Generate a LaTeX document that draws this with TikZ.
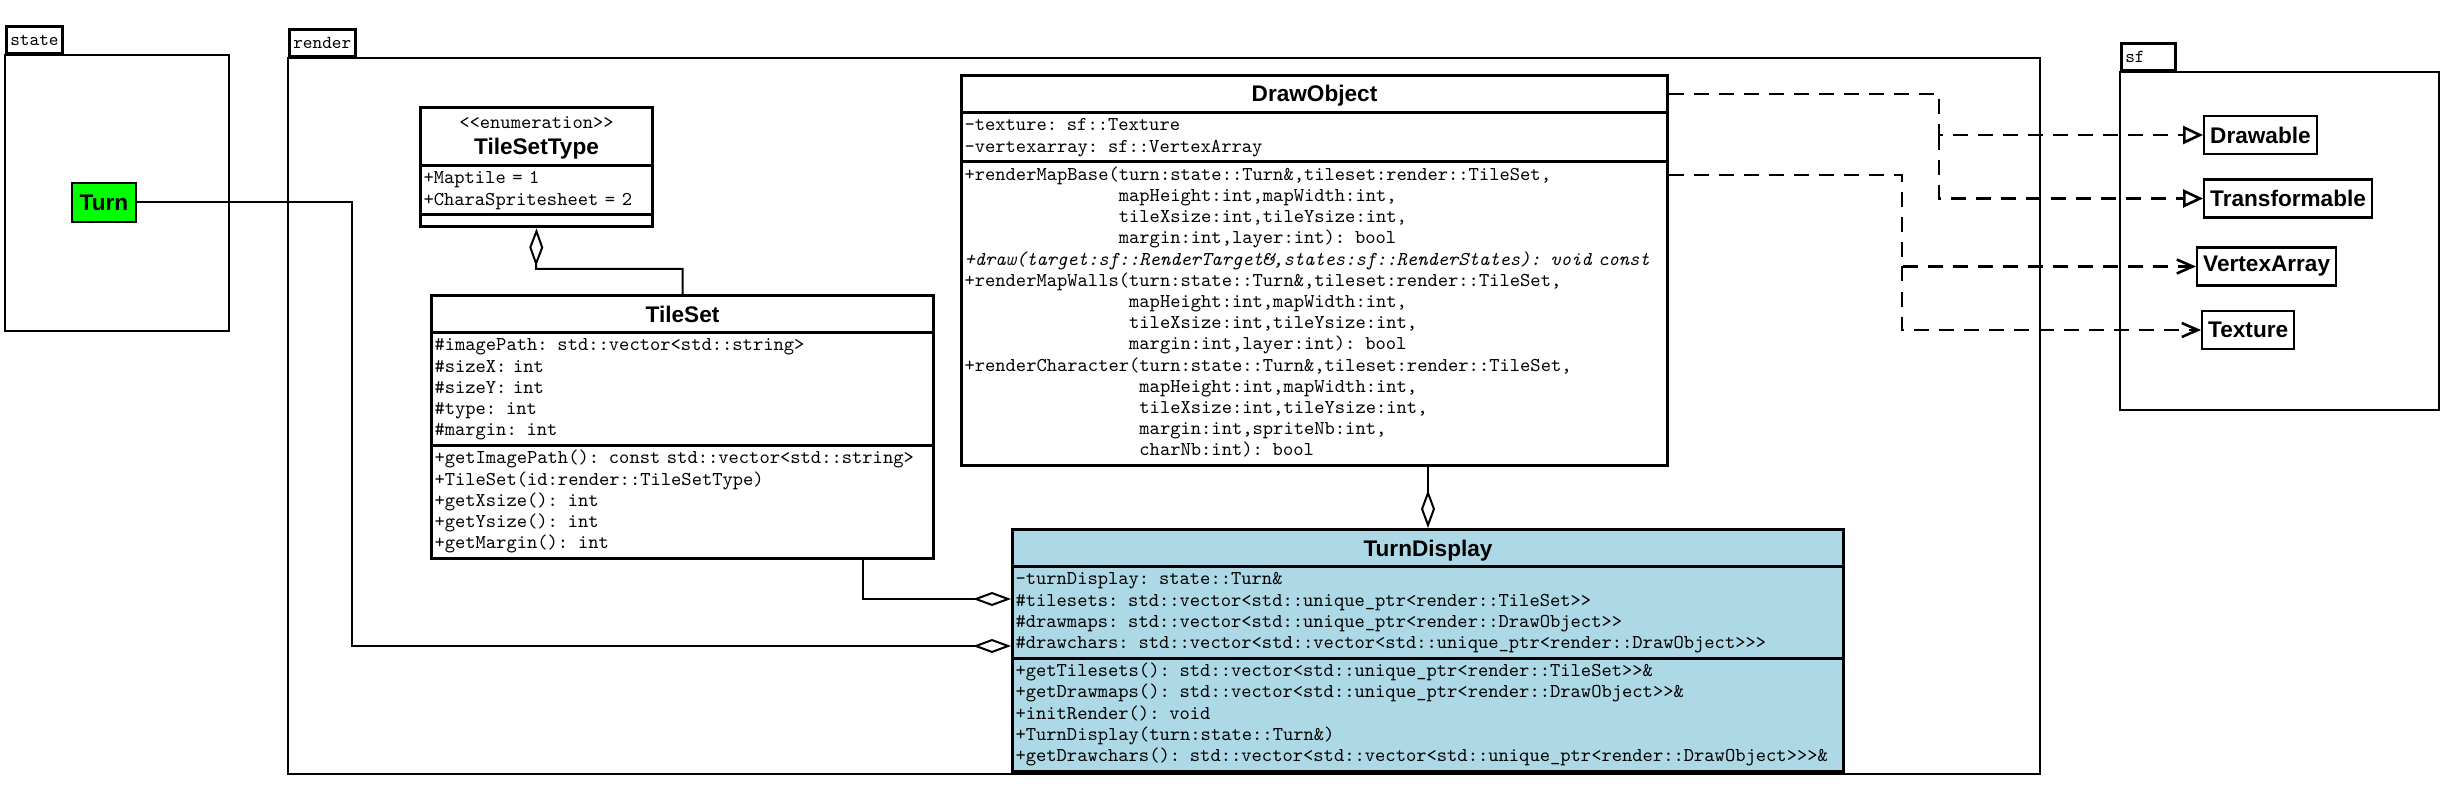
\documentclass[tikz,border=0pt]{standalone}
\usepackage{fontspec}
\setsansfont{Liberation Sans}
\setmonofont{lmmono10-regular.otf}[ItalicFont=lmmono10-italic.otf]
\usetikzlibrary{arrows.meta,shapes.multipart}

\definecolor{turngreen}{HTML}{00FF00}
\definecolor{displayblue}{HTML}{ADD8E6}

\newcommand{\umlfont}{\ttfamily\fontsize{9.8}{10.6}\selectfont}
\newcommand{\pkgfont}{\ttfamily\fontsize{9.2}{10}\selectfont}
\newcommand{\classfont}{\sffamily\bfseries\fontsize{11.3}{13}\selectfont}
\newcommand{\classname}[1]{{\centering\classfont\rule[-3.5pt]{0pt}{15pt}#1\par}}

\begin{document}
\begin{tikzpicture}[x=0.5pt,y=-0.5pt,
        umlclass/.style={rectangle split, rectangle split parts=3, draw, fill=white,
            line width=1.5pt, inner xsep=1.5pt, inner ysep=1pt, anchor=north west,
            align=left, font=\umlfont},
        sfclass/.style={draw, fill=white, line width=1.2pt, font=\classfont,
            inner xsep=3pt, inner ysep=0pt, minimum height=19pt, anchor=west},
        pkgtab/.style={draw, line width=1.3pt, font=\pkgfont, anchor=south west,
            inner xsep=2pt, inner ysep=0pt, minimum height=13.5pt},
        pkgframe/.style={draw, line width=1.3pt},
        aggr/.style={line width=1pt, -{Diamond[open, length=19pt, width=7pt]}},
        realize/.style={line width=1.3pt, dash pattern=on 7.5pt off 5pt,
            -{Triangle[open, length=10pt, width=9pt]}},
        depend/.style={line width=1.3pt, dash pattern=on 7.5pt off 5pt,
            -{Straight Barb[length=8pt, width=7pt]}}]
    \useasboundingbox (0,0) rectangle (2451,802);

    %% packages
    \node[pkgtab] (statetab) at (5,55) {state};
    \draw[pkgframe] (statetab.south west) rectangle (229,331);
    \node[pkgtab] (rendertab) at (288,58) {render};
    \draw[pkgframe] (rendertab.south west) rectangle (2040,774);
    \node[pkgtab, text width=23pt, align=left] (sftab) at (2120,72) {sf};
    \draw[pkgframe] (sftab.south west) rectangle (2439,410);

    %% state
    \node[draw, fill=turngreen, line width=1.2pt, font=\classfont, inner sep=0pt,
        minimum width=32pt, minimum height=19.5pt] (turn) at (104,202.5) {Turn};

    %% render
    \node[umlclass, text width=113pt] (tilesettype) at (419,106) {%
        {\centering\rule{0pt}{9pt}<<enumeration>>\\\classfont TileSetType\rule[-3.5pt]{0pt}{0pt}\par}
        \nodepart{two}\strut+Maptile = 1\\
        +CharaSpritesheet = 2\strut
        \nodepart{three}\rule{0pt}{2.5pt}};

    \node[umlclass, text width=248pt] (tileset) at (430,294) {%
        \classname{TileSet}
        \nodepart{two}\strut\#imagePath: std::vector<std::string>\\
        \#sizeX: int\\
        \#sizeY: int\\
        \#type: int\\
        \#margin: int\strut
        \nodepart{three}\strut+getImagePath(): const std::vector<std::string>\\
        +TileSet(id:render::TileSetType)\\
        +getXsize(): int\\
        +getYsize(): int\\
        +getMargin(): int\strut};

    \node[umlclass, text width=350pt] (drawobject) at (960,74) {%
        \classname{DrawObject}
        \nodepart{two}\strut-texture: sf::Texture\\
        -vertexarray: sf::VertexArray\strut
        \nodepart{three}\strut+renderMapBase(turn:state::Turn\&,tileset:render::TileSet,\\
        \phantom{+renderMapBase(}mapHeight:int,mapWidth:int,\\
        \phantom{+renderMapBase(}tileXsize:int,tileYsize:int,\\
        \phantom{+renderMapBase(}margin:int,layer:int): bool\\
        \textit{+draw(target:sf::RenderTarget\&,states:sf::RenderStates): void const}\\
        +renderMapWalls(turn:state::Turn\&,tileset:render::TileSet,\\
        \phantom{+renderMapWalls(}mapHeight:int,mapWidth:int,\\
        \phantom{+renderMapWalls(}tileXsize:int,tileYsize:int,\\
        \phantom{+renderMapWalls(}margin:int,layer:int): bool\\
        +renderCharacter(turn:state::Turn\&,tileset:render::TileSet,\\
        \phantom{+renderCharacter(}mapHeight:int,mapWidth:int,\\
        \phantom{+renderCharacter(}tileXsize:int,tileYsize:int,\\
        \phantom{+renderCharacter(}margin:int,spriteNb:int,\\
        \phantom{+renderCharacter(}charNb:int): bool\strut};

    \node[umlclass, fill=displayblue, text width=412.5pt] (turndisplay) at (1011,528) {%
        \classname{TurnDisplay}
        \nodepart{two}\strut-turnDisplay: state::Turn\&\\
        \#tilesets: std::vector<std::unique\_ptr<render::TileSet>>\\
        \#drawmaps: std::vector<std::unique\_ptr<render::DrawObject>>\\
        \#drawchars: std::vector<std::vector<std::unique\_ptr<render::DrawObject>>>\strut
        \nodepart{three}\strut+getTilesets(): std::vector<std::unique\_ptr<render::TileSet>>\&\\
        +getDrawmaps(): std::vector<std::unique\_ptr<render::DrawObject>>\&\\
        +initRender(): void\\
        +TurnDisplay(turn:state::Turn\&)\\
        +getDrawchars(): std::vector<std::vector<std::unique\_ptr<render::DrawObject>>>\&\strut};

    %% sf
    \node[sfclass] (drawable) at (2203,135) {Drawable};
    \node[sfclass] (transformable) at (2203,198.5) {Transformable};
    \node[sfclass] (vertexarray) at (2196,266.5) {VertexArray};
    \node[sfclass] (texture) at (2201,330) {Texture};

    %% aggregations
    \coordinate (tstbend) at (536,269);
    \coordinate (tsbend) at (863,599);
    \coordinate (turnbend) at (352,646);
    \draw[aggr] (tileset.north) |- (tstbend) -- (tilesettype.south);
    \draw[aggr] (drawobject.south -| turndisplay.north) -- (turndisplay.north);
    \draw[aggr] (tileset.south -| tsbend) |- (turndisplay.west |- tsbend);
    \draw[aggr] (turn.east) -| (turnbend) -- (turndisplay.west |- turnbend);

    %% realizations and uses
    \coordinate (realbus) at (1939,94);
    \coordinate (usebus) at (1902,175);
    \draw[realize] (drawobject.east |- realbus) -| (realbus |- drawable.west) -- (drawable.west);
    \draw[realize] (realbus |- drawable.west) |- (transformable.west);
    \draw[depend] (drawobject.east |- usebus) -| (usebus |- vertexarray.west) -- (vertexarray.west);
    \draw[depend] (usebus |- vertexarray.west) |- (texture.west);
\end{tikzpicture}
\end{document}
